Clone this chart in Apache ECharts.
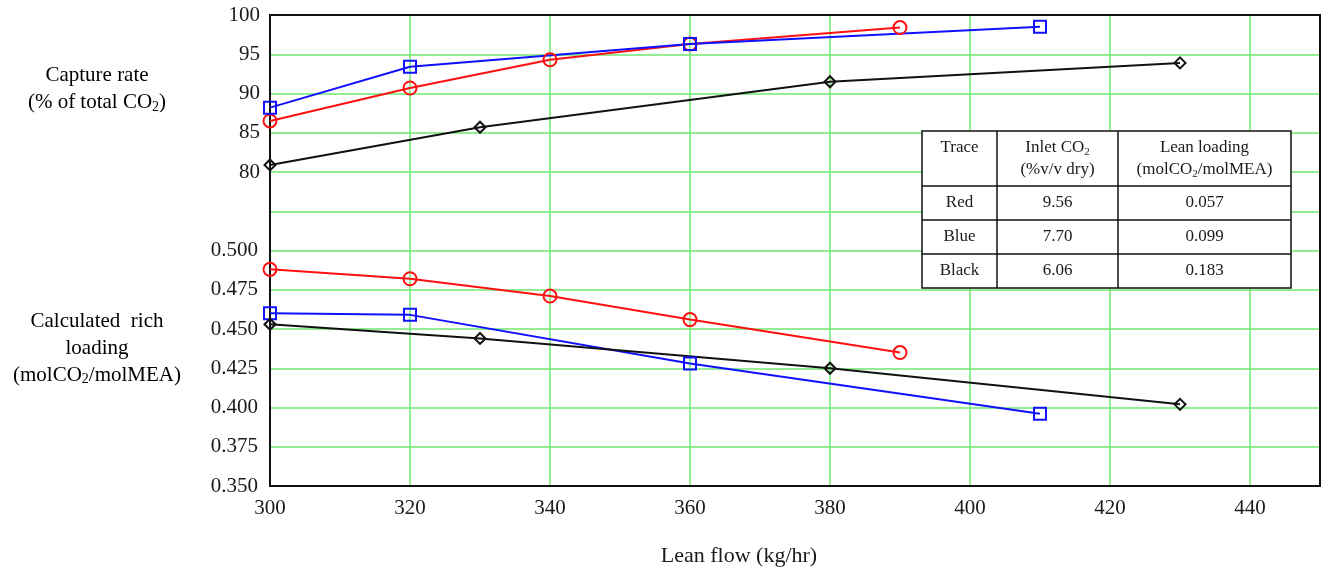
<!DOCTYPE html>
<html>
<head>
<meta charset="utf-8">
<script src="https://cdn.jsdelivr.net/npm/echarts@6/dist/echarts.min.js"></script>
<style>
  html, body { margin: 0; padding: 0; background: #fff; }
  #chart { width: 1323px; height: 577px; }
</style>
</head>
<body>
<div id="chart"></div>
<script>
// lean flow (kg/hr) for each trace
const redFlow = [300, 320, 340, 360, 390];
const blueFlow = [300, 320, 360, 410];
const blackFlow = [300, 330, 380, 430];

// capture rate (% of total CO2)
const redCapture = [86.5, 90.7, 94.3, 96.3, 98.4];
const blueCapture = [88.2, 93.4, 96.3, 98.5];
const blackCapture = [80.9, 85.7, 91.5, 93.9];

// calculated rich loading (molCO2/molMEA)
const redRich = [0.488, 0.482, 0.471, 0.456, 0.435];
const blueRich = [0.460, 0.459, 0.428, 0.396];
const blackRich = [0.453, 0.444, 0.425, 0.402];

// inset table
const tableTraces = ["Red", "Blue", "Black"];
const tableInlet = ["9.56", "7.70", "6.06"];
const tableLean = ["0.057", "0.099", "0.183"];

const FONT = "'Liberation Serif', 'DejaVu Serif', serif";
const TEXT = "#1a1a1a";
const GRID_GREEN = "#6fe86f";

const pairs = (xs, ys) => xs.map((x, i) => [x, ys[i]]);

function makeSeries(name, color, symbol, size, xs, ys, axis) {
  return {
    name, type: "line", yAxisIndex: axis,
    data: pairs(xs, ys),
    symbol, symbolSize: size,
    showAllSymbol: true,
    lineStyle: { color, width: 2 },
    itemStyle: { color: "transparent", borderColor: color, borderWidth: 2 },
    emphasis: { disabled: true },
    z: 3,
  };
}

const chart = echarts.init(document.getElementById("chart"), null, { renderer: "canvas" });

// table graphics
const tb = { x0: 922, x1: 997, x2: 1118, x3: 1291, y0: 131, y1: 186, rowH: 34 };
const tableEls = [];
const tableBottom = tb.y1 + tb.rowH * tableTraces.length;
tableEls.push({
  type: "rect", shape: { x: tb.x0, y: tb.y0, width: tb.x3 - tb.x0, height: tableBottom - tb.y0 },
  style: { fill: "#fff", stroke: "#111", lineWidth: 1.5 }, z: 10,
});
[tb.x1, tb.x2].forEach((x) => tableEls.push({
  type: "line", shape: { x1: x, y1: tb.y0, x2: x, y2: tableBottom },
  style: { stroke: "#111", lineWidth: 1.5 }, z: 11,
}));
for (let i = 0; i < tableTraces.length; i++) {
  const y = tb.y1 + tb.rowH * i;
  tableEls.push({
    type: "line", shape: { x1: tb.x0, y1: y, x2: tb.x3, y2: y },
    style: { stroke: "#111", lineWidth: 1.5 }, z: 11,
  });
}
const rich = {
  a: { fontFamily: FONT, fontSize: 17, color: TEXT, lineHeight: 22 },
  s: { fontFamily: FONT, fontSize: 11, color: TEXT, lineHeight: 22, padding: [8, 0, 0, 0] },
};
function cellText(text, x, y, r) {
  return {
    type: "text", z: 12,
    style: { text, x, y, textAlign: "center", textVerticalAlign: "middle",
      fontFamily: FONT, fontSize: 17, fill: TEXT, rich: r },
  };
}
const c0 = (tb.x0 + tb.x1) / 2, c1 = (tb.x1 + tb.x2) / 2, c2 = (tb.x2 + tb.x3) / 2;
tableEls.push(cellText("{a|Trace}", c0, 148, rich));
tableEls.push(cellText("{a|Inlet CO}{s|2}\n{a|(%v/v dry)}", c1, 159, rich));
tableEls.push(cellText("{a|Lean loading}\n{a|(molCO}{s|2}{a|/molMEA)}", c2, 159, rich));
tableTraces.forEach((t, i) => {
  const y = tb.y1 + tb.rowH * i + tb.rowH / 2;
  tableEls.push(cellText("{a|" + t + "}", c0, y, rich));
  tableEls.push(cellText("{a|" + tableInlet[i] + "}", c1, y, rich));
  tableEls.push(cellText("{a|" + tableLean[i] + "}", c2, y, rich));
});

const richBig = {
  a: { fontFamily: FONT, fontSize: 21, color: TEXT, lineHeight: 27 },
  s: { fontFamily: FONT, fontSize: 14, color: TEXT, lineHeight: 27, padding: [9, 0, 0, 0] },
};

chart.setOption({
  backgroundColor: "#fff",
  animation: false,
  grid: { left: 270, right: 3, top: 15, bottom: 91, show: false },
  xAxis: {
    type: "value", min: 300, max: 450, interval: 20,
    axisLine: { show: true, lineStyle: { color: "#111", width: 2 } },
    axisTick: { show: false },
    axisLabel: {
      fontFamily: FONT, fontSize: 21, color: TEXT, margin: 12,
      formatter: (v) => (v > 440 ? "" : String(v)),
    },
    splitLine: { show: true, lineStyle: { color: GRID_GREEN, width: 1.5 } },
  },
  yAxis: [
    {
      type: "value", min: 40, max: 100, interval: 5, position: "left",
      axisLine: { show: true, lineStyle: { color: "#111", width: 2 } },
      axisTick: { show: false },
      axisLabel: {
        fontFamily: FONT, fontSize: 21, color: TEXT, margin: 10,
        formatter: (v) => (v >= 80 ? String(v) : ""),
      },
      splitLine: { show: true, lineStyle: { color: GRID_GREEN, width: 1.5 } },
    },
    {
      type: "value", min: 0.35, max: 0.65, interval: 0.025, position: "left", offset: 0,
      axisLine: { show: false },
      axisTick: { show: false },
      axisLabel: {
        fontFamily: FONT, fontSize: 21, color: TEXT, margin: 12,
        formatter: (v) => (v <= 0.5001 ? v.toFixed(3) : ""),
      },
      splitLine: { show: false },
    },
  ],
  series: [
    makeSeries("Red capture", "#ff1010", "circle", 13, redFlow, redCapture, 0),
    makeSeries("Blue capture", "#1010ff", "rect", 12, blueFlow, blueCapture, 0),
    makeSeries("Black capture", "#111", "diamond", 11, blackFlow, blackCapture, 0),
    makeSeries("Red rich", "#ff1010", "circle", 13, redFlow, redRich, 1),
    makeSeries("Blue rich", "#1010ff", "rect", 12, blueFlow, blueRich, 1),
    makeSeries("Black rich", "#111", "diamond", 11, blackFlow, blackRich, 1),
  ],
  graphic: [
    {
      type: "rect", z: 2, silent: true,
      shape: { x: 270, y: 15, width: 1050, height: 471 },
      style: { fill: "none", stroke: "#111", lineWidth: 2 },
    },
    {
      type: "text",
      style: { text: "{a|Capture rate}\n{a|(% of total CO}{s|2}{a|)}", x: 97, y: 89,
        textAlign: "center", textVerticalAlign: "middle", rich: richBig },
    },
    {
      type: "text",
      style: { text: "{a|Calculated  rich}\n{a|loading}\n{a|(molCO}{s|2}{a|/molMEA)}", x: 97, y: 348,
        textAlign: "center", textVerticalAlign: "middle", rich: richBig },
    },
    {
      type: "text",
      style: { text: "Lean flow (kg/hr)", x: 739, y: 556, textAlign: "center", textVerticalAlign: "middle",
        fontFamily: FONT, fontSize: 22, fill: TEXT },
    },
    ...tableEls,
  ],
});
window.addEventListener("resize", () => chart.resize());
</script>
</body>
</html>
